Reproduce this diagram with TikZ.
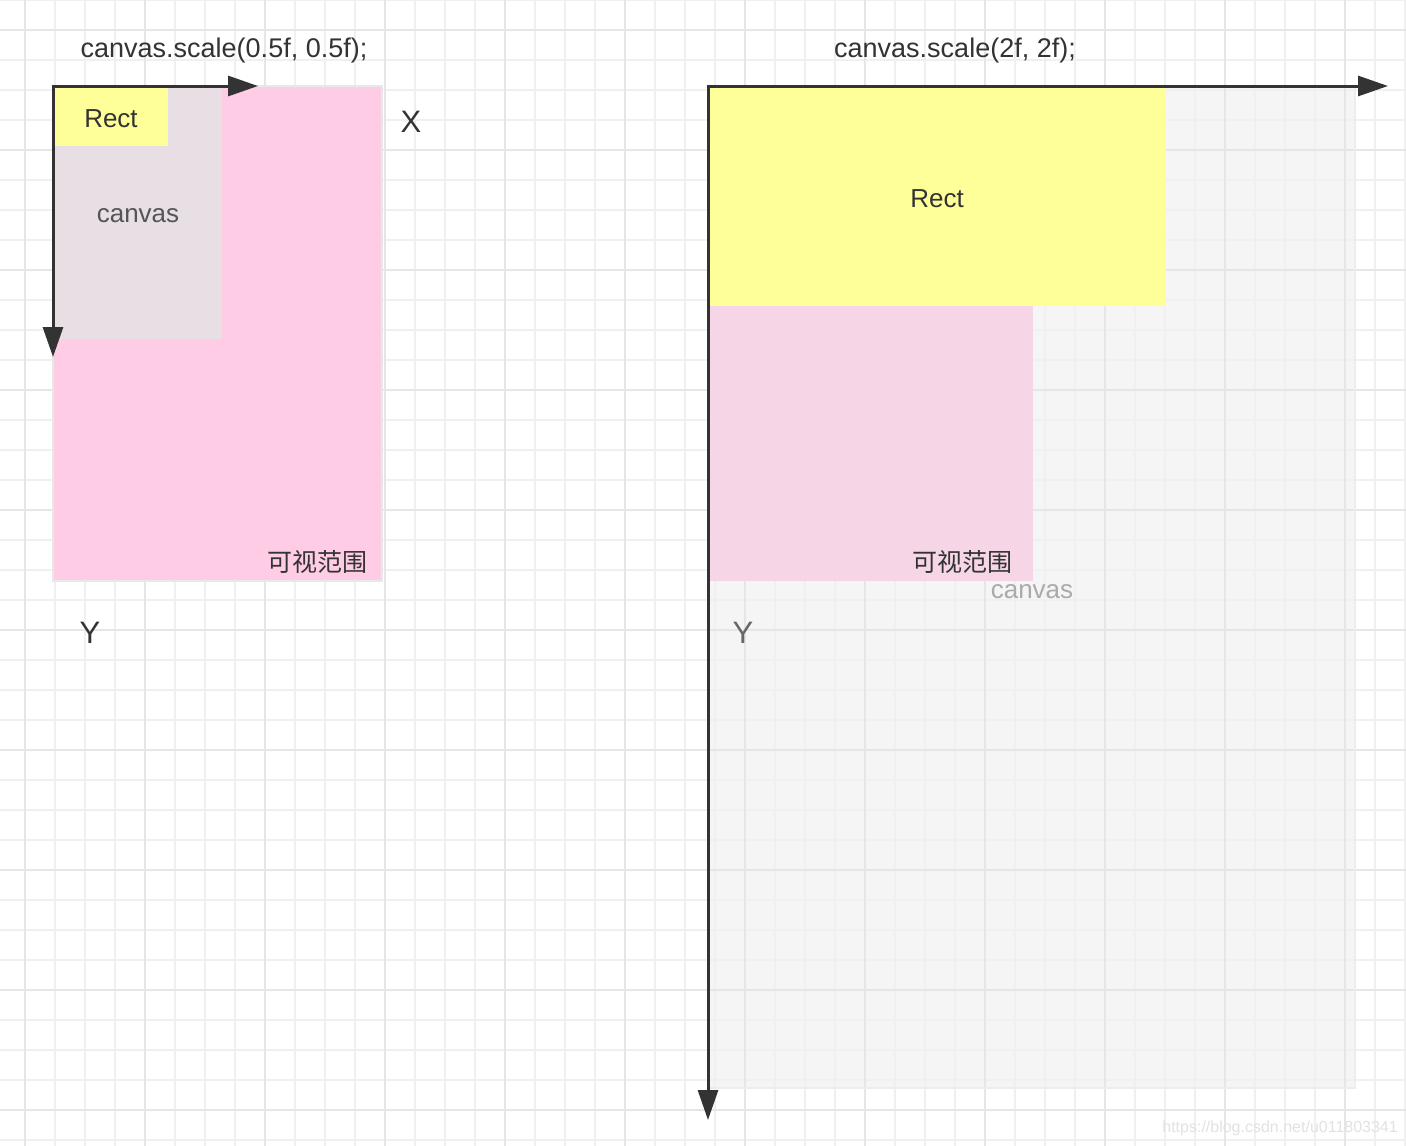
\documentclass[tikz,border=0pt]{standalone}
\usepackage{fontspec}
\setmainfont{Liberation Sans}
\newfontfamily\cjk{Noto Sans CJK SC}
\usetikzlibrary{positioning,arrows.meta}
\definecolor{InkGray}{HTML}{333333}
\definecolor{MidGray}{HTML}{555555}
\definecolor{SoftInk}{HTML}{666666}
\definecolor{PaleInk}{HTML}{AAAAAA}
\definecolor{MarkGray}{HTML}{E2E2E2}
\definecolor{GridMinor}{HTML}{F0F0F0}
\definecolor{GridMajor}{HTML}{E6E6E6}
\definecolor{NoteYellow}{HTML}{FFFF99}
\definecolor{ViewPink}{HTML}{FFCCE5}
\definecolor{ViewPinkPale}{HTML}{F5D5E6}
\definecolor{CanvasMauve}{HTML}{E8DFE4}
\definecolor{CanvasGray}{HTML}{F5F5F5}
\tikzset{
  axis/.style={draw=InkGray,line width=3pt,line cap=rect,-{Triangle[length=30pt,width=20pt]}},
  minor/.style={draw=GridMinor,line width=1.5pt},
  major/.style={draw=GridMajor,line width=2.5pt},
  txt/.style={inner sep=0pt,text=InkGray,font=\fontsize{26}{30}\selectfont},
  axlab/.style={txt,font=\fontsize{31}{34}\selectfont},
}
\tikzset{cn/.style={txt,font=\cjk\fontsize{25}{30}\selectfont}, sitemark/.style={inner sep=0pt,text=MarkGray,font=\fontsize{16}{18}\selectfont}}

\begin{document}
\begin{tikzpicture}[x=1pt,y=-1pt]
\useasboundingbox (0,0) rectangle (1406,1146);
\fill[white] (0,0) rectangle (1406,1146);
% right canvas sits under the grid
\fill[CanvasGray] (708,86) rectangle (1355,1088);
% grid
\foreach \gx in {25,55,...,1405} \draw[minor] (\gx,0) -- (\gx,1146);
\foreach \gy in {0,30,...,1140} \draw[minor] (0,\gy) -- (1406,\gy);
\foreach \gx in {25,145,...,1345} \draw[major] (\gx,0) -- (\gx,1146);
\foreach \gy in {30,150,...,1110} \draw[major] (0,\gy) -- (1406,\gy);
\draw[draw=black!7,line width=2pt] (1355,86) -- (1355,1088) -- (708,1088);
% left side
\filldraw[fill=ViewPink,draw=black!9,line width=2pt] (53,86) rectangle (382,581);
\fill[CanvasMauve] (53,86) rectangle (222,339);
\fill[NoteYellow] (53,86) rectangle (168,146);
% right side
\fill[NoteYellow] (708,86) rectangle (1166,306);
\fill[ViewPinkPale] (708,306) rectangle (1033,581);
% axes
\coordinate (oL) at (53,86);
\coordinate (xL) at (258,86);
\coordinate (yL) at (53,357);
\coordinate (oR) at (708,86);
\coordinate (xR) at (1388,86);
\coordinate (yR) at (708,1120);
\draw[axis] (oL) -- (xL);
\draw[axis] (oL) -- (yL);
\draw[axis] (oR) -- (xR);
\draw[axis] (oR) -- (yR);
% labels
\node[txt,font=\fontsize{27}{30}\selectfont] (titleL) at (224,51) {canvas.scale(0.5f, 0.5f);};
\node[txt,font=\fontsize{27}{30}\selectfont] (titleR) at (955,51) {canvas.scale(2f, 2f);};
\node[txt] (rectL) at (111,119) {Rect};
\node[txt] (rectR) at (937,199) {Rect};
\node[txt,text=MidGray] (canvasL) at (138,216) {canvas};
\node[txt,text=PaleInk] (canvasR) at (1032,592) {canvas};
\node[cn,anchor=east] (viewL) at (368,562) {可视范围};
\node[cn,anchor=east] (viewR) at (1013,562) {可视范围};
\node[axlab] (xlab) at (411,122) {X};
\node[axlab] (ylabL) at (90,633) {Y};
\node[axlab,text=SoftInk] (ylabR) at (743,633) {Y};
\node[sitemark,anchor=east] (site) at (1398,1128) {https://blog.csdn.net/u011803341};
\end{tikzpicture}
\end{document}
